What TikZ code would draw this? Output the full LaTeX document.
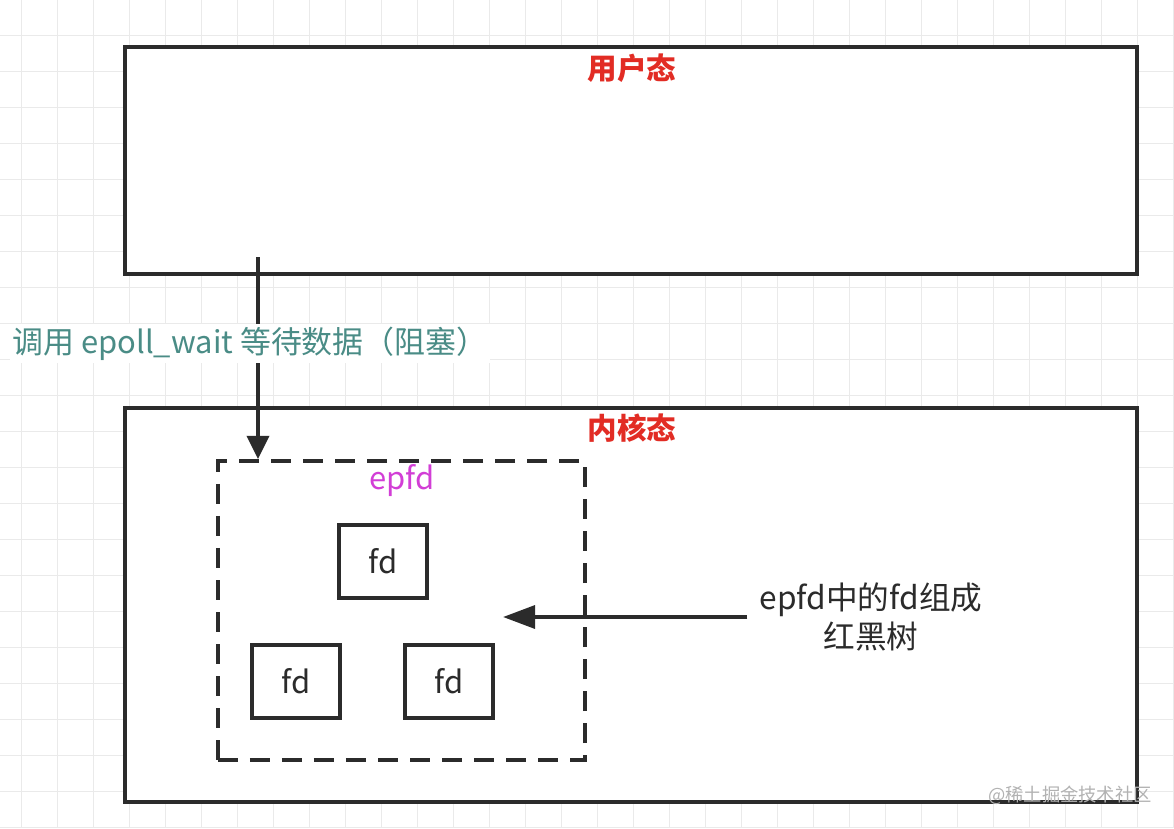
\documentclass[tikz,border=0pt]{standalone}
\usepackage{fontspec}
\setmainfont{Noto Sans CJK SC}
\usepackage{xcolor}
\usetikzlibrary{arrows.meta, positioning, calc}
\definecolor{framegray}{RGB}{43,43,43}
\definecolor{gridgray}{RGB}{234,234,234}
\definecolor{titlered}{RGB}{226,44,36}
\definecolor{callteal}{RGB}{74,140,134}
\definecolor{epfdpink}{RGB}{210,62,214}

\begin{document}
\begin{tikzpicture}[x=0.025cm, y=-0.025cm,
		gridline/.style={draw=gridgray, line width=0.9pt},
		region/.style={draw=framegray, line width=2.8pt, fill=white, minimum width=25.3cm},
		statetitle/.style={text=titlered, font=\fontsize{21}{25}\selectfont\bfseries, inner sep=0pt},
		fdbox/.style={draw=framegray, line width=2.5pt, fill=white, minimum width=2.2cm, minimum height=1.825cm, font=\fontsize{22}{26}\selectfont, text=framegray},
		epfdbox/.style={draw=framegray, line width=2.8pt, dash pattern=on 0.5cm off 0.3cm, minimum width=9.175cm, minimum height=7.475cm},
		calllabel/.style={fill=white, text=callteal, font=\fontsize{22}{26}\selectfont, inner sep=2pt},
		arrowstyle/.style={-{Triangle[length=5.8mm, width=5.5mm]}, line width=2.8pt, framegray}
	]
	\useasboundingbox (0,0) rectangle (1174,828);
	% background grid
	\foreach \gx in {0,...,32} \draw[gridline] (21.7+36*\gx,0) -- ++(0,828);
	\foreach \gy in {0,...,22} \draw[gridline] (0,35.3+36*\gy) -- ++(1174,0);
	% user space and kernel space
	\node[region, minimum height=5.675cm] (user) at (631,160.5) {};
	\node[region, minimum height=9.85cm] (kernel) at (631,605) {};
	\node[statetitle] (usertitle) at (632,68) {用户态};
	\node[statetitle] (kerneltitle) at (632,428) {内核态};
	% epoll instance
	\node[epfdbox] (epfd) at (401.5,610.5) {};
	\node[text=epfdpink, font=\fontsize{22}{26}\selectfont, inner sep=0pt] (epfdtitle) at (402,481) {epfd};
	\node[fdbox] (fdtop) at (383,561.5) {fd};
	\node[fdbox] (fdleft) at (296,681.5) {fd};
	\node[fdbox] (fdright) at (449,681.5) {fd};
	% epoll_wait call
	\coordinate (callstart) at (258,257);
	\draw[arrowstyle] (callstart) -- (callstart |- epfd.north)
		node[calllabel, pos=0.43, xshift=-2mm] (calltext) {调用 epoll\_wait 等待数据（阻塞）};
	% red-black tree note
	\node[font=\fontsize{22.5}{28}\selectfont, text=framegray, align=center, inner sep=0pt] (treenote) at (871,617) {epfd中的fd组成\\红黑树};
	\coordinate (treehead) at (503,617);
	\draw[arrowstyle, -{Triangle[length=8mm, width=5.7mm]}] ([xshift=-3mm]treenote.west) -- (treehead);
	\node[text=gray!60, font=\fontsize{13}{16}\selectfont, inner sep=0pt] (mark) at (1070,795) {@稀土掘金技术社区};
\end{tikzpicture}
\end{document}
